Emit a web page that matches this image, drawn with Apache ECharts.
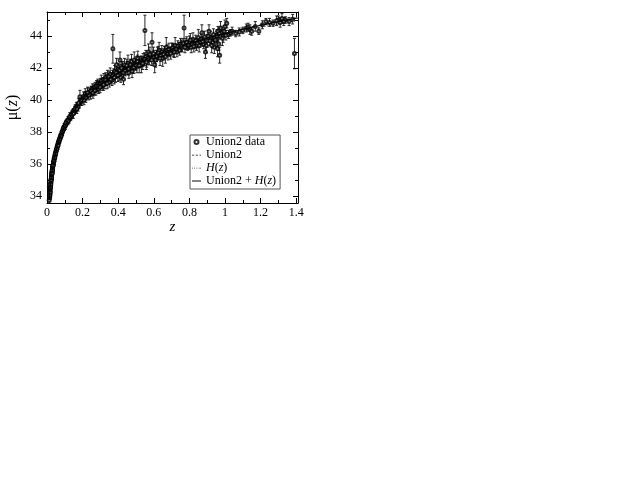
<!DOCTYPE html>
<html><head><meta charset="utf-8">
<script src="https://cdn.jsdelivr.net/npm/echarts@6/dist/echarts.min.js"></script>
<style>html,body{margin:0;padding:0;background:#fff}#c{width:618px;height:478px}</style>
</head><body><div id="c"></div>
<script>
// Union2 supernova data
var zData = [0.015,0.016,0.017,0.018,0.019,0.020,0.021,0.022,0.023,0.024,0.025,0.026,0.027,0.028,0.029,0.030,0.031,0.032,0.033,0.035,0.036,0.038,0.040,0.042,0.045,0.048,0.050,0.053,0.056,0.060,0.063,0.066,0.070,0.074,0.078,0.082,0.085,0.090,0.095,0.100,0.105,0.110,0.115,0.120,0.125,0.130,0.135,0.140,0.145,0.150,0.155,0.160,0.165,0.170,0.175,0.180,0.185,0.19,0.20,0.205,0.21,0.215,0.22,0.225,0.23,0.24,0.245,0.25,0.255,0.26,0.265,0.27,0.275,0.28,0.285,0.29,0.295,0.30,0.305,0.31,0.315,0.32,0.325,0.33,0.335,0.34,0.345,0.35,0.355,0.36,0.365,0.37,0.375,0.38,0.385,0.39,0.395,0.40,0.405,0.41,0.415,0.42,0.425,0.43,0.435,0.44,0.45,0.455,0.46,0.47,0.475,0.48,0.49,0.50,0.505,0.51,0.52,0.53,0.54,0.55,0.555,0.56,0.57,0.575,0.59,0.60,0.61,0.62,0.63,0.64,0.65,0.66,0.67,0.68,0.69,0.70,0.71,0.72,0.73,0.74,0.75,0.76,0.77,0.78,0.79,0.80,0.81,0.82,0.83,0.84,0.85,0.86,0.87,0.88,0.89,0.90,0.91,0.92,0.93,0.94,0.95,0.955,0.96,0.965,0.97,0.975,0.98,0.99,1.00,1.01,1.02,1.03,1.06,1.12,1.14,1.15,1.19,1.23,1.27,1.30,1.31,1.32,1.34,1.36,1.39,
  0.012,0.014,0.0155,0.0165,0.0175,0.0185,0.0195,0.0205,0.0215,0.0225,0.0235,0.0245,0.0255,0.0265,0.0275,0.0285,0.0295,0.0305,0.0315,0.034,0.037,0.039,0.041,0.044,0.046,0.049,0.052,0.055,0.058,0.062,0.065,0.068,0.072,0.076,0.080,0.088,0.093,0.098,0.103,0.108,0.118,0.128,0.138,0.148,0.158,0.168,0.178,0.195,0.208,0.218,0.228,0.235,0.248,0.258,0.268,0.278,0.288,0.298,0.308,0.318,0.328,0.338,0.348,0.358,0.368,0.378,0.388,0.398,0.408,0.418,0.428,0.438,0.448,0.458,0.468,0.478,0.488,0.498,0.508,0.518,0.528,0.538,0.548,0.558,0.568,0.578,0.588,0.598,0.605,0.615,0.625,0.635,0.645,0.655,0.665,0.675,0.685,0.695,0.705,0.715,0.725,0.735,0.745,0.755,0.765,0.775,0.785,0.795,0.805,0.815,0.825,0.835,0.845,0.855,0.865,0.875,0.885,0.895,0.905,0.915,0.925,0.935,0.945,0.958,0.968,0.985,0.995,1.005,1.04,1.08,1.10,1.13,1.17,1.21,1.25,1.29,1.33,1.38];
var muData = [33.85,34.0,34.15,34.3,34.45,34.6,34.8,34.85,35.0,35.05,35.2,35.3,35.35,35.45,35.5,35.65,35.7,35.8,35.9,35.95,36.0,36.15,36.3,36.35,36.5,36.7,36.75,36.9,37.0,37.2,37.3,37.35,37.5,37.65,37.8,37.85,38.0,38.1,38.3,38.35,38.5,38.6,38.65,38.75,38.8,38.9,38.95,39.1,39.2,39.25,39.35,39.4,39.55,39.6,39.55,39.75,40.2,39.9,40.05,40.2,40.1,40.4,40.25,40.3,40.45,40.5,40.35,40.6,40.7,40.55,40.75,40.8,40.6,40.9,41.0,40.7,40.95,41.05,41.2,40.9,41.1,41.3,41.0,41.4,41.2,41.5,41.3,41.1,41.6,41.4,41.25,43.2,41.6,41.8,41.5,42.2,41.7,41.9,41.6,42.5,41.4,41.8,42.0,41.3,42.2,41.9,42.0,42.3,41.7,42.1,42.4,42.0,42.5,42.3,42.1,42.6,42.35,42.2,42.5,44.35,42.7,42.45,43.0,42.6,43.6,42.7,42.5,42.9,43.1,42.8,42.6,43.0,43.3,42.9,43.0,43.2,43.1,43.4,43.0,43.3,43.5,43.3,44.5,43.5,43.4,43.6,43.3,43.8,43.5,43.4,43.9,43.6,44.2,43.5,43.0,43.7,44.3,43.9,43.6,43.3,43.8,44.0,44.3,43.5,42.8,44.5,44.2,44.0,44.6,44.8,44.1,44.2,44.15,44.5,44.4,44.3,44.3,44.9,44.8,45.0,44.85,45.1,45.0,44.9,42.9,
  33.7,33.95,34.05,34.25,34.2,34.5,34.55,34.75,34.7,35.0,34.95,35.2,35.15,35.35,35.5,35.4,35.6,35.6,35.8,35.9,36.15,36.2,36.4,36.4,36.6,36.65,36.85,36.95,37.1,37.15,37.4,37.45,37.55,37.7,37.75,38.05,38.2,38.3,38.4,38.55,38.7,38.95,39.05,39.15,39.45,39.45,39.8,39.95,40.0,40.15,40.45,40.3,40.55,40.45,40.6,40.85,40.85,40.8,41.0,40.95,41.25,41.05,41.45,41.3,41.5,41.4,41.7,41.55,41.85,42.0,41.7,41.85,42.15,41.95,42.2,41.8,42.05,42.2,42.4,42.15,42.4,42.3,42.55,42.35,42.6,42.85,42.5,42.9,42.2,42.75,42.95,42.6,43.0,42.85,42.7,43.1,43.15,42.9,43.25,43.0,43.2,43.35,43.1,43.4,43.55,43.3,43.6,43.45,43.75,43.5,43.35,43.7,43.55,43.4,43.8,43.65,43.95,43.4,44.0,43.7,43.4,44.1,43.75,43.2,44.15,43.85,44.3,44.05,44.3,44.25,44.35,44.55,44.6,44.7,44.85,44.95,44.9,45.05];
var errData = [0.2,0.2,0.2,0.2,0.2,0.2,0.2,0.2,0.2,0.2,0.2,0.2,0.2,0.2,0.2,0.2,0.2,0.2,0.2,0.2,0.2,0.2,0.2,0.2,0.2,0.2,0.2,0.2,0.2,0.2,0.2,0.2,0.2,0.2,0.2,0.2,0.2,0.2,0.2,0.2,0.2,0.2,0.2,0.2,0.25,0.2,0.2,0.25,0.2,0.2,0.25,0.2,0.3,0.2,0.25,0.25,0.4,0.2,0.25,0.3,0.2,0.3,0.25,0.2,0.3,0.25,0.3,0.25,0.3,0.3,0.25,0.3,0.3,0.3,0.3,0.3,0.25,0.3,0.35,0.3,0.3,0.35,0.3,0.3,0.3,0.35,0.3,0.3,0.4,0.3,0.35,0.9,0.35,0.35,0.4,0.4,0.3,0.4,0.4,0.5,0.3,0.4,0.4,0.35,0.4,0.35,0.4,0.5,0.35,0.4,0.45,0.3,0.5,0.4,0.4,0.45,0.35,0.5,0.4,0.95,0.4,0.4,0.5,0.4,0.6,0.4,0.45,0.4,0.5,0.4,0.5,0.35,0.6,0.4,0.3,0.35,0.4,0.5,0.3,0.3,0.35,0.3,0.8,0.35,0.3,0.4,0.35,0.4,0.3,0.3,0.5,0.3,0.5,0.3,0.4,0.4,0.4,0.4,0.35,0.4,0.5,0.4,0.3,0.4,0.5,0.4,0.35,0.4,0.4,0.3,0.25,0.2,0.2,0.25,0.3,0.25,0.2,0.2,0.2,0.25,0.3,0.3,0.2,0.25,0.95,
  0.25,0.2,0.25,0.2,0.2,0.25,0.2,0.2,0.25,0.2,0.2,0.2,0.25,0.2,0.2,0.2,0.25,0.2,0.2,0.25,0.2,0.2,0.2,0.25,0.2,0.2,0.25,0.2,0.2,0.25,0.2,0.2,0.25,0.2,0.2,0.25,0.2,0.2,0.25,0.2,0.25,0.25,0.2,0.3,0.25,0.3,0.3,0.3,0.3,0.3,0.35,0.3,0.3,0.35,0.3,0.35,0.3,0.35,0.3,0.35,0.3,0.35,0.35,0.3,0.35,0.4,0.35,0.4,0.35,0.4,0.4,0.35,0.4,0.4,0.35,0.4,0.4,0.35,0.4,0.45,0.35,0.4,0.4,0.45,0.4,0.45,0.35,0.4,0.5,0.35,0.4,0.45,0.4,0.35,0.4,0.35,0.4,0.35,0.3,0.35,0.3,0.35,0.3,0.35,0.3,0.35,0.35,0.3,0.4,0.3,0.35,0.35,0.3,0.4,0.35,0.3,0.35,0.45,0.35,0.3,0.45,0.35,0.4,0.5,0.35,0.45,0.35,0.3,0.25,0.25,0.2,0.25,0.3,0.25,0.25,0.3,0.25,0.3];

// Best-fit curves
var modelZ = [0.013,0.02,0.03,0.04,0.05,0.06,0.08,0.1,0.15,0.2,0.25,0.3,0.35,0.4,0.45,0.5,0.6,0.7,0.8,0.9,1.0,1.1,1.2,1.3,1.41];
var union2Mu = [33.75,34.7,35.6,36.24,36.74,37.15,37.81,38.33,39.27,39.97,40.5,40.95,41.34,41.68,41.99,42.27,42.76,43.18,43.55,43.87,44.17,44.44,44.69,44.92,45.15];
var hzMu = [33.75,34.7,35.6,36.24,36.74,37.15,37.81,38.33,39.27,39.96,40.49,40.93,41.32,41.66,41.96,42.24,42.71,43.12,43.47,43.78,44.06,44.31,44.54,44.75,44.97];
var combinedMu = [33.75,34.7,35.6,36.24,36.74,37.15,37.81,38.33,39.27,39.97,40.5,40.95,41.34,41.68,41.99,42.27,42.75,43.17,43.53,43.85,44.15,44.42,44.66,44.89,45.12];

var xTicks = [0,0.2,0.4,0.6,0.8,1,1.2,1.4];
var yTicks = [34,36,38,40,42,44];

var FONT = 'Liberation Serif';
function pair(xs, ys){ return xs.map(function(x,i){return [x, ys[i]];}); }
var pts = zData.map(function(z,i){return [z, muData[i], errData[i]];});

function fmtX(v){ for (var i=0;i<xTicks.length;i++){ if (Math.abs(v-xTicks[i])<1e-6) return String(xTicks[i]); } return ''; }
function fmtY(v){ for (var i=0;i<yTicks.length;i++){ if (Math.abs(v-yTicks[i])<1e-6) return String(yTicks[i]); } return ''; }

var axisCommon = {
  axisLine:{show:true,onZero:false,lineStyle:{color:'#000',width:1}},
  axisTick:{show:true,inside:true,length:5,lineStyle:{color:'#000'}},
  minorTick:{show:true,splitNumber:2,length:3,lineStyle:{color:'#000'}},
  splitLine:{show:false}
};

var chart = echarts.init(document.getElementById('c'));
chart.setOption({
  animation:false,
  backgroundColor:'#fff',
  textStyle:{fontFamily:FONT},
  grid:{left:47,top:12,width:251,height:191,containLabel:false},
  xAxis:[
    Object.assign({type:'value',min:0,max:1.41,interval:0.2,position:'bottom',
      name:'z',nameLocation:'middle',nameGap:16,
      nameTextStyle:{fontFamily:FONT,fontStyle:'italic',fontSize:15,color:'#000'},
      axisLabel:{formatter:fmtX,fontFamily:FONT,fontSize:12,color:'#000',margin:4}},axisCommon),
    Object.assign({type:'value',min:0,max:1.41,interval:0.2,position:'top',
      axisLabel:{show:false}},axisCommon)
  ],
  yAxis:[
    Object.assign({type:'value',min:33.55,max:45.5,splitNumber:6,position:'left',
      name:'{a|μ(}{b|z}{a|)}',nameLocation:'middle',nameGap:26,nameRotate:90,
      nameTextStyle:{rich:{a:{fontFamily:FONT,fontSize:16,color:'#000'},b:{fontFamily:FONT,fontSize:16,fontStyle:'italic',color:'#000'}}},
      axisLabel:{formatter:fmtY,fontFamily:FONT,fontSize:12,color:'#000',margin:5}},axisCommon),
    Object.assign({type:'value',min:33.55,max:45.5,splitNumber:6,position:'right',
      axisLabel:{show:false}},axisCommon)
  ],
  legend:{
    orient:'vertical',left:190,top:135,
    borderColor:'#555',borderWidth:1,padding:[1,4,2,2],itemGap:1,
    itemWidth:9,itemHeight:4,
    data:[
      {name:'Union2 data',icon:'emptyCircle'},
      {name:'Union2',icon:'path://M0,0h3v1h-3zM5,0h3v1h-3zM10,0h2v1h-2z'},
      {name:'H(z)',icon:'path://M0,0h1v1h-1zM3,0h1v1h-1zM6,0h1v1h-1zM9,0h1v1h-1zM11,0h1v1h-1z'},
      {name:'Union2 + H(z)',icon:'path://M0,0h12v1.3h-12z'}
    ],
    formatter:function(name){
      if (name==='H(z)') return '{i|H}{n|(}{i|z}{n|)}';
      if (name==='Union2 + H(z)') return '{n|Union2 + }{i|H}{n|(}{i|z}{n|)}';
      return '{n|'+name+'}';
    },
    textStyle:{fontFamily:FONT,fontSize:12,color:'#000',
      rich:{n:{fontFamily:FONT,fontSize:12,color:'#000'},i:{fontFamily:FONT,fontSize:12,fontStyle:'italic',color:'#000'}}}
  },
  series:[
    {
      name:'errbars',type:'custom',xAxisIndex:0,yAxisIndex:0,silent:true,z:2,
      data:pts,
      renderItem:function(params, api){
        var z = api.value(0), m = api.value(1), e = api.value(2);
        var lo = api.coord([z, m-e]), hi = api.coord([z, m+e]);
        var cw = 1.5;
        var st = {stroke:'#111',lineWidth:0.9,fill:null};
        return {type:'group',children:[
          {type:'line',shape:{x1:lo[0],y1:lo[1],x2:hi[0],y2:hi[1]},style:st},
          {type:'line',shape:{x1:lo[0]-cw,y1:lo[1],x2:lo[0]+cw,y2:lo[1]},style:st},
          {type:'line',shape:{x1:hi[0]-cw,y1:hi[1],x2:hi[0]+cw,y2:hi[1]},style:st}
        ]};
      },
      encode:{x:0,y:1},clip:true
    },
    {
      name:'Union2 data',type:'scatter',symbol:'emptyCircle',symbolSize:3,z:3,
      itemStyle:{color:'#000',borderWidth:0.8},
      data:pts.map(function(p){return [p[0],p[1]];})
    },
    {
      name:'Union2',type:'line',symbol:'none',smooth:true,z:4,
      lineStyle:{color:'#111',width:1,type:[4,3]},
      itemStyle:{color:'#111'},
      data:pair(modelZ, union2Mu)
    },
    {
      name:'H(z)',type:'line',symbol:'none',smooth:true,z:4,
      lineStyle:{color:'#111',width:1,type:[1,2]},
      itemStyle:{color:'#111'},
      data:pair(modelZ, hzMu)
    },
    {
      name:'Union2 + H(z)',type:'line',symbol:'none',smooth:true,z:4,
      lineStyle:{color:'#000',width:1},
      itemStyle:{color:'#000'},
      data:pair(modelZ, combinedMu)
    }
  ]
});
</script></body></html>
